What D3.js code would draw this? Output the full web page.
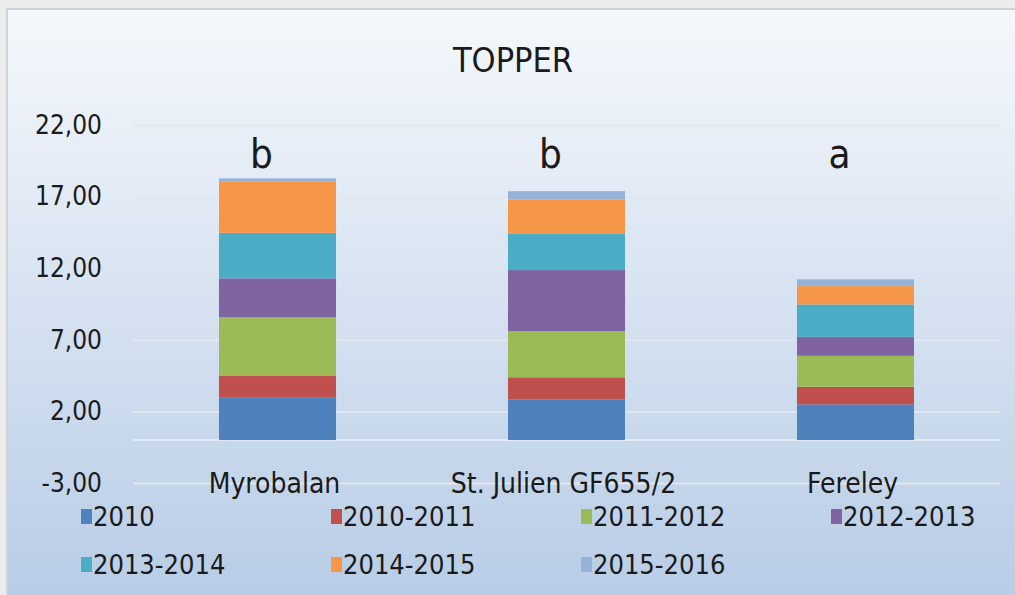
<!DOCTYPE html>
<html lang="en">

<head>
  <title>TOPPER</title>
  <script src="https://cdn.jsdelivr.net/npm/d3@7"></script>
  <style>
    body { margin: 0; background: #ececec; }
    text { font-family: "DejaVu Sans Condensed", "Open Sans", sans-serif; fill: #1a1a1a; }
  </style>
</head>

<body>
  <script>
    // data
    var categories = ["Myrobalan", "St. Julien GF655/2", "Fereley"];
    var seasons = ["2010", "2010-2011", "2011-2012", "2012-2013", "2013-2014", "2014-2015", "2015-2016"];
    var v2010 = [2.95, 2.84, 2.49];
    var v2010_2011 = [1.52, 1.54, 1.23];
    var v2011_2012 = [4.10, 3.23, 2.16];
    var v2012_2013 = [2.72, 4.26, 1.33];
    var v2013_2014 = [3.18, 2.56, 2.26];
    var v2014_2015 = [3.56, 2.37, 1.28];
    var v2015_2016 = [0.24, 0.58, 0.47];
    var letters = ["b", "b", "a"];
    var yTicks = [-3, 2, 7, 12, 17, 22];

    var seriesValues = [v2010, v2010_2011, v2011_2012, v2012_2013, v2013_2014, v2014_2015, v2015_2016];
    var colors = ["#4f81bd", "#c0504d", "#9bbb59", "#8064a2", "#4bacc6", "#f79646", "#95b3d7"];

    var w = 1015;
    var h = 595;

    var svg = d3.select("body").append("svg")
                .attr("width", w)
                .attr("height", h)
                .style("display", "block");

    var defs = svg.append("defs");
    var grad = defs.append("linearGradient")
                   .attr("id", "bg")
                   .attr("x1", 0).attr("y1", 0)
                   .attr("x2", 0).attr("y2", 1);
    grad.append("stop").attr("offset", "0%").attr("stop-color", "#f5f8fc");
    grad.append("stop").attr("offset", "100%").attr("stop-color", "#b7cce6");

    // chart area box
    svg.append("rect")
       .attr("x", 7).attr("y", 9)
       .attr("width", w).attr("height", h)
       .attr("fill", "url(#bg)")
       .attr("stroke", "#cfd3d8")
       .attr("stroke-width", 2);

    var x = d3.scaleBand()
              .domain(categories)
              .range([133, 1000])
              .paddingInner(0.595)
              .paddingOuter(0.2975);
    var y = d3.scaleLinear()
              .domain([-3, 22])
              .range([483, 125]);

    var fmt = function (d) {
      return d.toFixed(2).replace(".", ",");
    };

    // gridlines
    var yGridlines = d3.axisLeft()
                       .scale(y)
                       .tickValues(yTicks)
                       .tickSize(867)
                       .tickFormat("");
    var grid = svg.append("g")
                  .attr("transform", "translate(1000,0)")
                  .call(yGridlines);
    grid.select(".domain").remove();
    grid.selectAll("line")
        .attr("stroke", "#e1e7ee")
        .attr("stroke-width", 2);

    // zero line
    svg.append("line")
       .attr("x1", 133).attr("x2", 1000)
       .attr("y1", y(0)).attr("y2", y(0))
       .attr("stroke", "#e6ecf2")
       .attr("stroke-width", 2);

    // y axis labels
    var yAxis = d3.axisLeft()
                  .scale(y)
                  .tickValues(yTicks)
                  .tickSize(0)
                  .tickPadding(0)
                  .tickFormat(fmt);
    var ya = svg.append("g")
                .attr("transform", "translate(102,0)")
                .call(yAxis);
    ya.select(".domain").remove();
    ya.selectAll("text")
      .attr("font-size", 26)
      .attr("fill", "#1a1a1a")
      .style("font-family", null);

    // stacked bars
    var table = categories.map(function (c, i) {
      var row = { category: c };
      seasons.forEach(function (s, k) {
        row[s] = seriesValues[k][i];
      });
      return row;
    });
    var stacked = d3.stack().keys(seasons)(table);

    svg.selectAll(".layer")
       .data(stacked)
       .enter()
         .append("g")
         .classed("layer", true)
         .attr("fill", function (d, i) { return colors[i]; })
       .selectAll("rect")
       .data(function (d) { return d; })
       .enter()
         .append("rect")
         .attr("x", function (d) { return x(d.data.category); })
         .attr("width", x.bandwidth())
         .attr("y", function (d) { return y(d[1]); })
         .attr("height", function (d) { return y(d[0]) - y(d[1]); });

    // category labels
    svg.selectAll(".cat")
       .data(categories)
       .enter()
         .append("text")
         .classed("cat", true)
         .attr("x", function (d) { return x(d) + x.bandwidth() / 2 - 3; })
         .attr("y", 493)
         .attr("text-anchor", "middle")
         .attr("font-size", 28)
         .text(function (d) { return d; });

    // significance letters
    svg.selectAll(".letter")
       .data(letters)
       .enter()
         .append("text")
         .classed("letter", true)
         .attr("x", function (d, i) { return x(categories[i]) + x.bandwidth() / 2 - 16; })
         .attr("y", 168)
         .attr("text-anchor", "middle")
         .attr("font-size", 40)
         .text(function (d) { return d; });

    // title
    svg.append("text")
       .attr("x", 513)
       .attr("y", 72)
       .attr("text-anchor", "middle")
       .attr("font-size", 34)
       .text("TOPPER");

    // legend
    var legend = svg.selectAll(".legend")
                    .data(seasons)
                    .enter()
                      .append("g")
                      .classed("legend", true)
                      .attr("transform", function (d, i) {
                        return "translate(" + (81 + (i % 4) * 250) + "," + (i < 4 ? 517 : 565) + ")";
                      });
    legend.append("rect")
          .attr("x", 0).attr("y", -8)
          .attr("width", 11).attr("height", 15)
          .attr("fill", function (d, i) { return colors[i]; });
    legend.append("text")
          .attr("x", 12)
          .attr("y", 9)
          .attr("font-size", 27)
          .text(function (d) { return d; });
  </script>
</body>

</html>
